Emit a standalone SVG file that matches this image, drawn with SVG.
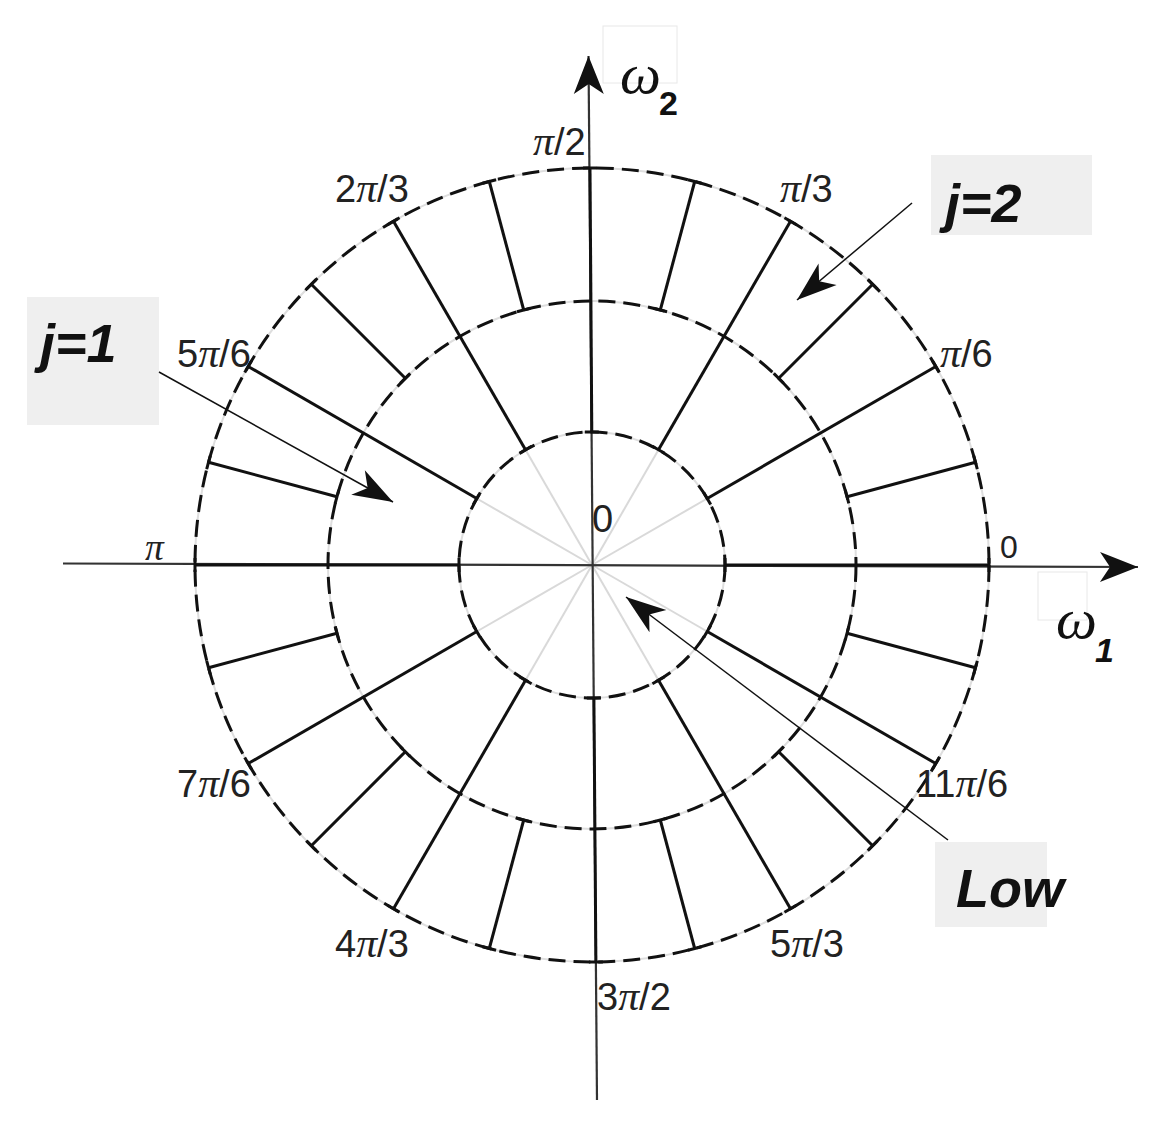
<svg xmlns="http://www.w3.org/2000/svg" width="1164" height="1125" viewBox="0 0 1164 1125">
<style>
.gc{fill:none;stroke:#dedede;stroke-width:2}
.dc{fill:none;stroke:#111;stroke-width:3;stroke-dasharray:17 8}
.rad{stroke:#111;stroke-width:3;marker-start:url(#tick);marker-end:url(#tick)}
.gray{stroke:#d9d9d9;stroke-width:2}
.axis{stroke:#333;stroke-width:2.2}
.ptr{stroke:#111;stroke-width:1.5;fill:none}
.lbl{font-family:"Liberation Sans",Arial,sans-serif;font-size:38px;fill:#222}
.pi{font-family:"Liberation Serif","Times New Roman",serif;font-style:italic;font-size:1.1em}
.big{font-family:"Liberation Sans",Arial,sans-serif;font-size:54px;font-weight:bold;font-style:italic;fill:#111}
.box{fill:#efefef}
.ghost{fill:none;stroke:#e8e8e8;stroke-width:1}
.om{font-family:"Liberation Serif","Times New Roman",serif;font-style:italic;font-size:58px;fill:#111}
.sub{font-family:"Liberation Sans",Arial,sans-serif;font-weight:bold;font-size:34px;fill:#111}
</style>
<defs>
<marker id="tick" markerUnits="userSpaceOnUse" orient="auto" markerWidth="6" markerHeight="18" viewBox="-3 -9 6 18" refX="0" refY="0" overflow="visible">
<path d="M0,-7 L0,7" stroke="#111" stroke-width="3"/>
</marker>
<marker id="axArrow" markerUnits="userSpaceOnUse" orient="auto" markerWidth="42" markerHeight="34" viewBox="-40 -17 42 34" refX="0" refY="0" overflow="visible">
<path d="M0,0 L-38,-15 L-28,0 L-38,15 Z" fill="#111"/>
</marker>
<marker id="ptArrow" markerUnits="userSpaceOnUse" orient="auto" markerWidth="44" markerHeight="32" viewBox="-42 -16 44 32" refX="0" refY="0" overflow="visible">
<path d="M0,0 L-40,-14 L-29,0 L-40,14 Z" fill="#111"/>
</marker>
</defs>

<g id="label-boxes">
<rect class="box" x="27" y="297" width="132" height="128"/>
<rect class="box" x="931" y="155" width="161" height="80"/>
<rect class="box" x="935" y="842" width="112" height="85"/>
<rect class="ghost" x="603" y="26" width="74" height="57"/>
<rect class="ghost" x="1038" y="572" width="49" height="48"/>
</g>

<g id="circles">
<circle class="gc" cx="592" cy="565" r="133"/>
<circle class="gc" cx="592" cy="565" r="264"/>
<circle class="gc" cx="592" cy="565" r="397"/>
</g>

<g id="connectors">
<g id="inner-gray-radials">
<line class="gray" x1="592" y1="565" x2="707.2" y2="498.5"/>
<line class="gray" x1="592" y1="565" x2="658.5" y2="449.8"/>
<line class="gray" x1="592" y1="565" x2="525.5" y2="449.8"/>
<line class="gray" x1="592" y1="565" x2="476.8" y2="498.5"/>
<line class="gray" x1="592" y1="565" x2="476.8" y2="631.5"/>
<line class="gray" x1="592" y1="565" x2="525.5" y2="680.2"/>
<line class="gray" x1="592" y1="565" x2="658.5" y2="680.2"/>
<line class="gray" x1="592" y1="565" x2="707.2" y2="631.5"/>
</g>
<g id="axes">
<line class="axis" x1="63" y1="563.5" x2="1138" y2="567" marker-end="url(#axArrow)"/>
<line class="axis" x1="597" y1="1100" x2="588.5" y2="56" marker-end="url(#axArrow)"/>
</g>
<g id="long-radials">
<line class="rad" x1="725" y1="565" x2="989" y2="565"/>
<line class="rad" x1="707.2" y1="498.5" x2="935.8" y2="366.5"/>
<line class="rad" x1="658.5" y1="449.8" x2="790.5" y2="221.2"/>
<line class="rad" x1="591.8" y1="432" x2="590" y2="168"/>
<line class="rad" x1="525.5" y1="449.8" x2="393.5" y2="221.2"/>
<line class="rad" x1="476.8" y1="498.5" x2="248.2" y2="366.5"/>
<line class="rad" x1="459" y1="565" x2="195" y2="565"/>
<line class="rad" x1="476.8" y1="631.5" x2="248.2" y2="763.5"/>
<line class="rad" x1="525.5" y1="680.2" x2="393.5" y2="908.8"/>
<line class="rad" x1="593.9" y1="698" x2="595.9" y2="962"/>
<line class="rad" x1="658.5" y1="680.2" x2="790.5" y2="908.8"/>
<line class="rad" x1="707.2" y1="631.5" x2="935.8" y2="763.5"/>
</g>
<g id="short-radials">
<line class="rad" x1="847" y1="496.7" x2="975.5" y2="462.3"/>
<line class="rad" x1="778.7" y1="378.3" x2="872.7" y2="284.3"/>
<line class="rad" x1="660.3" y1="310" x2="694.7" y2="181.5"/>
<line class="rad" x1="523.7" y1="310" x2="489.3" y2="181.5"/>
<line class="rad" x1="405.3" y1="378.3" x2="311.3" y2="284.3"/>
<line class="rad" x1="337" y1="496.7" x2="208.5" y2="462.3"/>
<line class="rad" x1="337" y1="633.3" x2="208.5" y2="667.7"/>
<line class="rad" x1="405.3" y1="751.7" x2="311.3" y2="845.7"/>
<line class="rad" x1="523.7" y1="820" x2="489.3" y2="948.5"/>
<line class="rad" x1="660.3" y1="820" x2="694.7" y2="948.5"/>
<line class="rad" x1="778.7" y1="751.7" x2="872.7" y2="845.7"/>
<line class="rad" x1="847" y1="633.3" x2="975.5" y2="667.7"/>
</g>
<g id="pointers">
<line class="ptr" x1="159" y1="372" x2="393" y2="502" marker-end="url(#ptArrow)"/>
<line class="ptr" x1="912" y1="203" x2="797" y2="300" marker-end="url(#ptArrow)"/>
<line class="ptr" x1="948" y1="840" x2="626" y2="597" marker-end="url(#ptArrow)"/>
</g>
</g>

<g id="dashed-circles">
<circle class="dc" cx="592" cy="565" r="133"/>
<circle class="dc" cx="592" cy="565" r="264"/>
<circle class="dc" cx="592" cy="565" r="397"/>
</g>

<g id="angle-labels">
<text class="lbl" x="533" y="155"><tspan class="pi">π</tspan>/2</text>
<text class="lbl" x="335" y="202">2<tspan class="pi">π</tspan>/3</text>
<text class="lbl" x="780" y="202"><tspan class="pi">π</tspan>/3</text>
<text class="lbl" x="177" y="367">5<tspan class="pi">π</tspan>/6</text>
<text class="lbl" x="940" y="367"><tspan class="pi">π</tspan>/6</text>
<text class="lbl" x="145" y="560" style="font-size:34px"><tspan class="pi">π</tspan></text>
<text class="lbl" x="1000" y="558" style="font-size:32px">0</text>
<text class="lbl" x="592" y="532">0</text>
<text class="lbl" x="177" y="797">7<tspan class="pi">π</tspan>/6</text>
<text class="lbl" x="916" y="797">11<tspan class="pi">π</tspan>/6</text>
<text class="lbl" x="335" y="957">4<tspan class="pi">π</tspan>/3</text>
<text class="lbl" x="770" y="957">5<tspan class="pi">π</tspan>/3</text>
<text class="lbl" x="597" y="1010">3<tspan class="pi">π</tspan>/2</text>
</g>

<g id="axis-labels">
<text class="om" x="620" y="93">ω</text>
<text class="sub" x="659" y="115">2</text>
<text class="om" x="1056" y="638">ω</text>
<text class="sub" x="1095" y="662" style="font-style:italic">1</text>
</g>

<g id="node-j1"><text class="big" x="40" y="362">j=1</text></g>
<g id="node-j2"><text class="big" x="945" y="222">j=2</text></g>
<g id="node-low"><text class="big" x="956" y="907">Low</text></g>
</svg>
